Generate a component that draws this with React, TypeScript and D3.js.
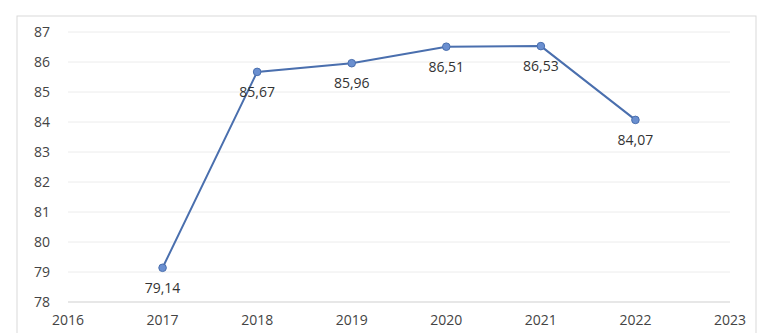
import React from "react";
import * as d3 from "d3";

const years = [2017, 2018, 2019, 2020, 2021, 2022];
const values = [79.14, 85.67, 85.96, 86.51, 86.53, 84.07];
const labels = ["79,14", "85,67", "85,96", "86,51", "86,53", "84,07"];
const xTicks = [2016, 2017, 2018, 2019, 2020, 2021, 2022, 2023];
const yTicks = [78, 79, 80, 81, 82, 83, 84, 85, 86, 87];

export default function App() {
  const W = 763, H = 333;
  const x = d3.scaleLinear().domain([2016, 2023]).range([68, 730]);
  const y = d3.scaleLinear().domain([78, 87]).range([302, 32]);
  const line = d3.line<number>().x((_, i) => x(years[i])).y((d) => y(d));
  const font = "'Open Sans', 'DejaVu Sans', sans-serif";
  return (
    <svg width={W} height={H} style={{ position: "fixed", left: 0, top: 0, background: "#fff" }}>
      <rect x={17} y={16} width={739} height={330} fill="#fff" stroke="#d9d9d9" />
      {yTicks.map((t) => (
        <line key={t} x1={68} x2={730} y1={y(t)} y2={y(t)} stroke={t === 78 ? "#cfcfcf" : "#ececec"} strokeWidth={1} />
      ))}
      {yTicks.map((t) => (
        <text key={"y" + t} x={50} y={y(t)} dy="0.35em" textAnchor="end" fontFamily={font} fontSize={14} fill="#444">
          {t}
        </text>
      ))}
      {xTicks.map((t) => (
        <text key={"x" + t} x={x(t)} y={325} textAnchor="middle" fontFamily={font} fontSize={14} fill="#444">
          {t}
        </text>
      ))}
      <path d={line(values) || ""} fill="none" stroke="#4a6fae" strokeWidth={2} />
      {values.map((v, i) => (
        <circle key={i} cx={x(years[i])} cy={y(v)} r={3.8} fill="#6a8fd0" stroke="#4a6fae" strokeWidth={1} />
      ))}
      {values.map((v, i) => (
        <text key={"l" + i} x={x(years[i])} y={y(v) + 25} textAnchor="middle" fontFamily={font} fontSize={14} fill="#333">
          {labels[i]}
        </text>
      ))}
    </svg>
  );
}
